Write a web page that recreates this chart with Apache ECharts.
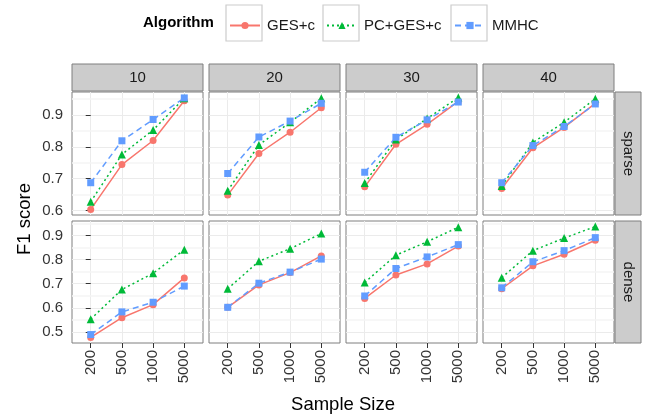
<!DOCTYPE html>
<html>
<head>
<meta charset="utf-8">
<script src="https://cdn.jsdelivr.net/npm/echarts@6/dist/echarts.min.js"></script>
<style>
  html, body { margin: 0; padding: 0; background: #fff; }
  #chart { width: 645px; height: 416px; }
</style>
</head>
<body>
<div id="chart"></div>
<script>
var sampleSizes = ['200', '500', '1000', '5000'];
var nodeCounts = ['10', '20', '30', '40'];
var densities = ['sparse', 'dense'];
var algorithms = ['GES+c', 'PC+GES+c', 'MMHC'];

// F1 score, one row per node count (10, 20, 30, 40), values over sampleSizes
var gesSparse = [
  [0.603, 0.744, 0.820, 0.945],
  [0.648, 0.779, 0.846, 0.923],
  [0.674, 0.808, 0.871, 0.943],
  [0.669, 0.797, 0.861, 0.937]
];
var pcSparse = [
  [0.627, 0.776, 0.853, 0.953],
  [0.662, 0.806, 0.877, 0.953],
  [0.686, 0.823, 0.889, 0.955],
  [0.677, 0.814, 0.877, 0.951]
];
var mmhcSparse = [
  [0.687, 0.819, 0.886, 0.954],
  [0.716, 0.831, 0.881, 0.937],
  [0.720, 0.830, 0.885, 0.941],
  [0.687, 0.804, 0.864, 0.935]
];
var gesDense = [
  [0.477, 0.559, 0.613, 0.724],
  [0.602, 0.695, 0.746, 0.815],
  [0.639, 0.736, 0.782, 0.856],
  [0.679, 0.774, 0.822, 0.880]
];
var pcDense = [
  [0.553, 0.676, 0.743, 0.841],
  [0.679, 0.793, 0.845, 0.908],
  [0.705, 0.818, 0.874, 0.934],
  [0.725, 0.837, 0.889, 0.937]
];
var mmhcDense = [
  [0.489, 0.583, 0.623, 0.690],
  [0.602, 0.702, 0.748, 0.802],
  [0.649, 0.763, 0.811, 0.862],
  [0.683, 0.791, 0.837, 0.891]
];

var sparseTicks = [0.6, 0.7, 0.8, 0.9];
var denseTicks = [0.5, 0.6, 0.7, 0.8, 0.9];

var rows = [
  { data: [gesSparse, pcSparse, mmhcSparse], ticks: sparseTicks },
  { data: [gesDense, pcDense, mmhcDense], ticks: denseTicks }
];

var colors = ['#F8766D', '#00BA38', '#619CFF'];
var symbols = ['circle', 'triangle', 'rect'];
var symbolSizes = [7, 8, 7];
var lineTypes = ['solid', [2, 3], [6, 4]];

var font = '"Liberation Sans", Arial, Helvetica, sans-serif';
var textColor = '#333';
var panelLeft = [72, 209, 346, 483];
var panelWidth = 131;
var panelTop = [92, 221];
var panelHeight = [123, 122];

// ggplot style range: data range padded by 5% on each side
function rowRange(sets) {
  var lo = Infinity, hi = -Infinity;
  sets.forEach(function(s) {
    s.forEach(function(r) {
      r.forEach(function(v) { lo = Math.min(lo, v); hi = Math.max(hi, v); });
    });
  });
  var pad = (hi - lo) * 0.05;
  return [lo - pad, hi + pad];
}

function minorLines(ticks, range) {
  var out = [ticks[0] - 0.05];
  ticks.forEach(function(t) { out.push(t + 0.05); });
  return out.filter(function(v) { return v > range[0] && v < range[1]; })
    .map(function(v) { return { yAxis: +v.toFixed(2) }; });
}

var grids = [], xAxes = [], yAxes = [], series = [], graphics = [];

rows.forEach(function(row, r) {
  var range = rowRange(row.data);
  var minor = minorLines(row.ticks, range);
  nodeCounts.forEach(function(n, c) {
    var gi = r * 4 + c;
    grids.push({
      left: panelLeft[c], top: panelTop[r], width: panelWidth, height: panelHeight[r],
      show: true, backgroundColor: '#fff', borderColor: '#7F7F7F', borderWidth: 1
    });
    xAxes.push({
      gridIndex: gi, type: 'value', min: -0.6, max: 3.6,
      axisLine: { show: false },
      axisTick: { show: r === 1, customValues: [0, 1, 2, 3], length: 5,
        lineStyle: { color: textColor } },
      axisLabel: { show: r === 1, customValues: [0, 1, 2, 3], rotate: 90, margin: 7,
        fontSize: 15, fontFamily: font, color: textColor,
        formatter: function(v) { return sampleSizes[v]; } },
      splitLine: { show: true, lineStyle: { color: '#EBEBEB', width: 1 } }
    });
    yAxes.push({
      gridIndex: gi, type: 'value', min: range[0], max: range[1],
      axisLine: { show: false },
      axisTick: { show: c === 0, customValues: row.ticks, length: 5,
        lineStyle: { color: textColor } },
      axisLabel: { show: c === 0, customValues: row.ticks, margin: 9,
        fontSize: 15, fontFamily: font, color: textColor,
        formatter: function(v) { return v.toFixed(1); } },
      splitLine: { show: true, lineStyle: { color: '#EBEBEB', width: 1 } }
    });
    algorithms.forEach(function(alg, a) {
      var s = {
        name: alg, type: 'line', xAxisIndex: gi, yAxisIndex: gi,
        data: row.data[a][c].map(function(v, i) { return [i, v]; }),
        symbol: symbols[a], symbolSize: symbolSizes[a], showSymbol: true,
        lineStyle: { color: colors[a], width: 1.5, type: lineTypes[a] },
        itemStyle: { color: colors[a] },
        emphasis: { disabled: true },
        animation: false
      };
      if (a === 0) {
        s.markLine = {
          silent: true, symbol: 'none', z: 1, animation: false,
          label: { show: false },
          lineStyle: { color: '#F5F5F5', width: 1.5, type: 'solid' },
          data: minor
        };
      }
      series.push(s);
    });
    // column strip on top row
    if (r === 0) {
      graphics.push({
        type: 'rect', shape: { x: panelLeft[c], y: 64, width: panelWidth, height: 27 },
        style: { fill: '#CCCCCC', stroke: '#7F7F7F', lineWidth: 1 }
      });
      graphics.push({
        type: 'text', x: panelLeft[c] + panelWidth / 2, y: 78,
        style: { text: n, fill: '#1A1A1A', font: '15px ' + font, align: 'center', verticalAlign: 'middle' }
      });
    }
  });
  // row strip on the right
  graphics.push({
    type: 'rect', shape: { x: 615, y: panelTop[r], width: 26, height: panelHeight[r] },
    style: { fill: '#CCCCCC', stroke: '#7F7F7F', lineWidth: 1 }
  });
  graphics.push({
    type: 'text', x: 628, y: panelTop[r] + panelHeight[r] / 2, rotation: -Math.PI / 2,
    style: { text: densities[r], fill: '#1A1A1A', font: '15px ' + font, align: 'center', verticalAlign: 'middle' }
  });
});

// legend keys
var keyLeft = [226, 323, 451];
graphics.push({
  type: 'text', x: 143, y: 23,
  style: { text: 'Algorithm', fill: '#000', font: 'bold 15px ' + font, align: 'left', verticalAlign: 'middle' }
});
keyLeft.forEach(function(x) {
  graphics.push({
    type: 'rect', shape: { x: x, y: 5, width: 36, height: 36 },
    style: { fill: '#fff', stroke: '#CCCCCC', lineWidth: 1.2 }
  });
});
var legends = algorithms.map(function(alg, a) {
  return {
    data: [alg], left: keyLeft[a] + 3, top: 18, padding: 0,
    itemWidth: 30, itemHeight: 9, selectedMode: false, z: 10,
    textStyle: { fontSize: 15, fontFamily: font, color: '#1A1A1A', padding: [0, 0, 0, 2] }
  };
});

// axis titles
graphics.push({
  type: 'text', x: 343, y: 405,
  style: { text: 'Sample Size', fill: '#000', font: '18.5px ' + font, align: 'center', verticalAlign: 'middle' }
});
graphics.push({
  type: 'text', x: 25, y: 219, rotation: Math.PI / 2,
  style: { text: 'F1 score', fill: '#000', font: '18.5px ' + font, align: 'center', verticalAlign: 'middle' }
});

var chart = echarts.init(document.getElementById('chart'));
chart.setOption({
  backgroundColor: '#fff',
  animation: false,
  legend: legends,
  grid: grids,
  xAxis: xAxes,
  yAxis: yAxes,
  series: series,
  graphic: graphics
});
</script>
</body>
</html>
